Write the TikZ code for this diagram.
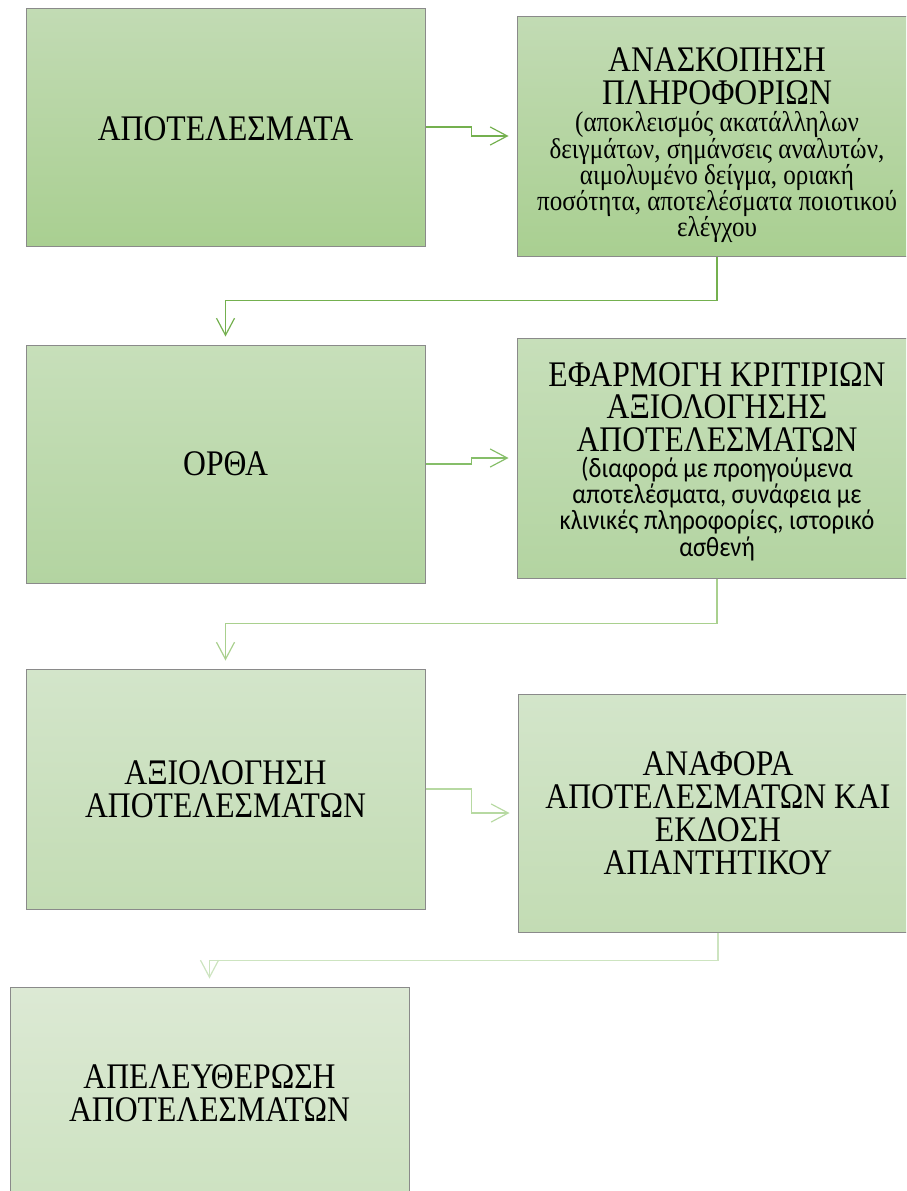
\documentclass[tikz,border=0pt]{standalone}
\usepackage{fontspec}
\setmainfont{Liberation Serif}[FakeStretch=0.88]
\newfontfamily\calib{Carlito}[FakeStretch=0.88]
\usetikzlibrary{arrows.meta}
\definecolor{bAt}{HTML}{C2DBB4}\definecolor{bAb}{HTML}{A9CF91}
\definecolor{bBt}{HTML}{C7DFBA}\definecolor{bBb}{HTML}{B3D4A1}
\definecolor{bCt}{HTML}{D3E5CA}\definecolor{bCb}{HTML}{C3DCB4}
\definecolor{bDt}{HTML}{DCE9D4}\definecolor{bDb}{HTML}{CDE2C1}
\definecolor{lnA}{HTML}{74B04F}\definecolor{lnB}{HTML}{86BE69}
\definecolor{lnC}{HTML}{A9D08E}\definecolor{lnD}{HTML}{B7D9A2}
\definecolor{lnE}{HTML}{CDE4C0}
\definecolor{edge}{HTML}{8A8A8A}
\tikzset{
  boxA/.style={draw=edge, line width=1pt, inner sep=0pt, minimum width=399pt, shade, top color=#1t, bottom color=#1b, align=center},
  conn/.style={draw=#1, line width=1.2pt, -{Straight Barb[length=17pt,width=18pt]}},
}
\newcommand{\bigtxt}[1]{\fontsize{36}{33}\selectfont #1}
\newcommand{\dn}[2]{\raisebox{-#1}[\height][\depth]{#2}}
\begin{document}
\begin{tikzpicture}[x=1pt,y=-1pt]
\useasboundingbox (0,0) rectangle (906,1191);
\clip (0,0) rectangle (906,1191);
\node[boxA=bA, minimum height=238pt] (b1) at (225.5,127) {\dn{2pt}{\bigtxt{ΑΠΟΤΕΛΕΣΜΑΤΑ}}};
\node[boxA=bA, minimum width=400pt, minimum height=240pt] (b2) at (717,136)
 {\dn{9pt}{\parbox{398pt}{\centering\fontsize{36}{33}\selectfont ΑΝΑΣΚΟΠΗΣΗ\\ΠΛΗΡΟΦΟΡΙΩΝ\par\vspace{1.5pt}
 \fontsize{28.5}{26.2}\selectfont (αποκλεισμός ακατάλληλων\\δειγμάτων, σημάνσεις αναλυτών,\\αιμολυμένο δείγμα, οριακή\\ποσότητα, αποτελέσματα ποιοτικού\\ελέγχου\par}}};
\node[boxA=bB, minimum height=238pt] (b3) at (225.5,464) {\bigtxt{ΟΡΘΑ}};
\node[boxA=bB, minimum width=400pt, minimum height=240pt] (b4) at (717,458)
 {\dn{3.5pt}{\parbox{398pt}{\centering\fontsize{36}{32.5}\selectfont ΕΦΑΡΜΟΓΗ ΚΡΙΤΙΡΙΩΝ\\ΑΞΙΟΛΟΓΗΣΗΣ\\ΑΠΟΤΕΛΕΣΜΑΤΩΝ\par
 \calib\fontsize{28}{26.3}\selectfont (διαφορά με προηγούμενα\\αποτελέσματα, συνάφεια με\\κλινικές πληροφορίες, ιστορικό\\ασθενή\par}}};
\node[boxA=bC, minimum height=240pt] (b5) at (225.5,789)
 {\parbox{398pt}{\centering\fontsize{36}{33}\selectfont ΑΞΙΟΛΟΓΗΣΗ\\ΑΠΟΤΕΛΕΣΜΑΤΩΝ\par}};
\node[boxA=bC, minimum width=400pt, minimum height=238pt] (b6) at (718,813)
 {\parbox{398pt}{\centering\fontsize{36}{33}\selectfont ΑΝΑΦΟΡΑ\\ΑΠΟΤΕΛΕΣΜΑΤΩΝ ΚΑΙ\\ΕΚΔΟΣΗ\\ΑΠΑΝΤΗΤΙΚΟΥ\par}};
\node[boxA=bD, minimum height=210pt] (b7) at (209.5,1092)
 {\dn{1pt}{\parbox{398pt}{\centering\fontsize{36}{33}\selectfont ΑΠΕΛΕΥΘΕΡΩΣΗ\\ΑΠΟΤΕΛΕΣΜΑΤΩΝ\par}}};
% horizontal arrows
\draw[conn=lnA] (b1.east) -- ++(46,0) |- ([xshift=-8pt]b2.west);
\draw[conn=lnB] (b3.east) -- ++(46,0) |- ([xshift=-8pt]b4.west);
\draw[conn=lnD] (b5.east) -- ++(46,0) |- ([xshift=-8pt]b6.west);
% vertical connectors
\draw[conn=lnA] (b2.south) -- ++(0,44) -| ([yshift=8pt]b3.north);
\draw[conn=lnC] (b4.south) -- ++(0,45) -| ([yshift=8pt]b5.north);
\draw[conn=lnE] (b6.south) -- ++(0,28) -| ([yshift=8pt]b7.north);
\end{tikzpicture}
\end{document}
